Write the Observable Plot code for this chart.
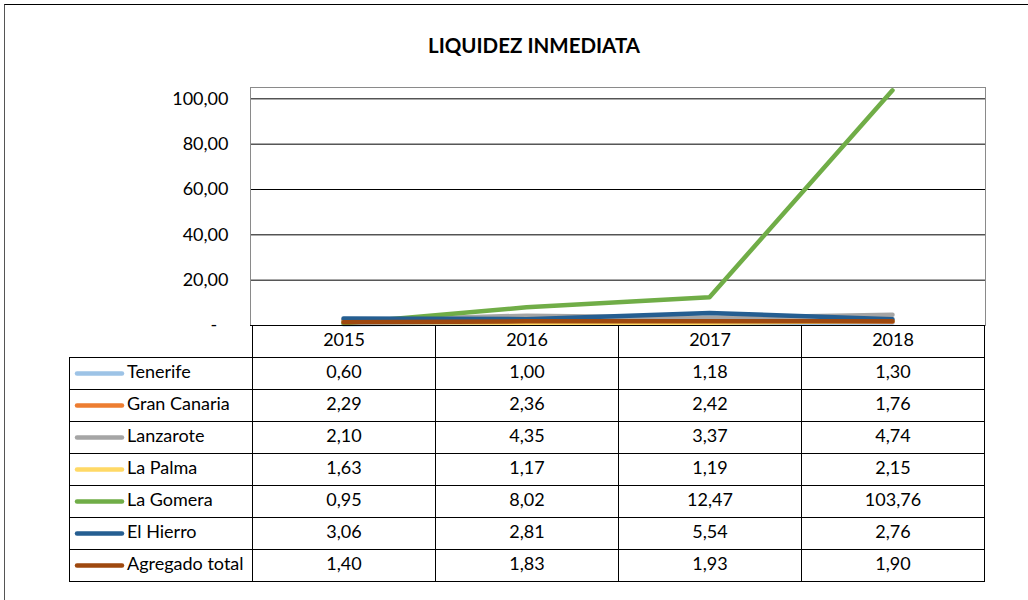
<!DOCTYPE html>
<html>
<head>
<meta charset="utf-8">
<script src="https://cdn.jsdelivr.net/npm/d3@7"></script>
<script src="https://cdn.jsdelivr.net/npm/@observablehq/plot@0.6"></script>
<style>
  html, body { margin: 0; padding: 0; background: #fff; }
  #wrap { position: relative; width: 1028px; height: 600px; overflow: hidden; font-family: Lato, "Noto Sans", sans-serif; }
  #frame { position: absolute; left: 4px; top: 4px; width: 1040px; height: 620px; border-top: 1px solid #000; border-left: 1px solid #555; }
  #title { position: absolute; left: 534px; top: 33px; transform: translateX(-50%); font-weight: bold; font-size: 20.5px; color: #000; white-space: nowrap; }
  .layer { position: absolute; left: 0; top: 0; }
</style>
</head>
<body>
<div id="wrap">
  <div id="frame"></div>
  <div id="title">LIQUIDEZ INMEDIATA</div>
  <div id="chart" class="layer"></div>
  <div id="table" class="layer"></div>
</div>
<script>
const years = ["2015", "2016", "2017", "2018"];
const seriesNames = ["Tenerife", "Gran Canaria", "Lanzarote", "La Palma", "La Gomera", "El Hierro", "Agregado total"];
const colors = ["#9DC3E6", "#ED7D31", "#A5A5A5", "#FFD966", "#70AD47", "#255E91", "#9E480E"];
const tenerife = [0.60, 1.00, 1.18, 1.30];
const granCanaria = [2.29, 2.36, 2.42, 1.76];
const lanzarote = [2.10, 4.35, 3.37, 4.74];
const laPalma = [1.63, 1.17, 1.19, 2.15];
const laGomera = [0.95, 8.02, 12.47, 103.76];
const elHierro = [3.06, 2.81, 5.54, 2.76];
const agregado = [1.40, 1.83, 1.93, 1.90];
const yTicks = [0, 20, 40, 60, 80, 100];

const seriesValues = [tenerife, granCanaria, lanzarote, laPalma, laGomera, elHierro, agregado];
const longData = [];
seriesNames.forEach((name, i) => {
  years.forEach((yr, j) => longData.push({series: name, year: yr, value: seriesValues[i][j]}));
});

const fmt = v => d3.format(".2f")(v).replace(".", ",");
const font = "Lato, 'Noto Sans', sans-serif";

const chart = Plot.plot({
  width: 1028,
  height: 600,
  marginLeft: 250,
  marginRight: 43,
  marginTop: 87,
  marginBottom: 275,
  style: {fontFamily: font, fontSize: "18px", color: "#000", background: "transparent"},
  x: {type: "point", domain: years, padding: 0.5, axis: null},
  y: {
    domain: [0, 105],
    ticks: yTicks,
    tickSize: 0,
    tickPadding: 22,
    tickFormat: v => v === 0 ? "-\u2002\u2009" : fmt(v),
    label: null
  },
  color: {domain: seriesNames, range: colors},
  marks: [
    Plot.ruleY(yTicks.filter(d => d > 0), {stroke: "#000", strokeWidth: 1}),
    Plot.frame({stroke: "#8a8a8a"}),
    Plot.ruleY([0], {stroke: "#000"}),
    Plot.line(longData, {
      x: "year", y: "value", z: "series", stroke: "series",
      strokeWidth: 4.5, strokeLinecap: "round", strokeLinejoin: "round"
    })
  ]
});
document.getElementById("chart").appendChild(chart);

// Data table
const cells = [];
years.forEach(yr => cells.push({row: "", col: yr, text: yr}));
seriesNames.forEach((name, i) => {
  cells.push({row: name, col: "", text: name, label: true});
  years.forEach((yr, j) => cells.push({row: name, col: yr, text: fmt(seriesValues[i][j])}));
});

const table = Plot.plot({
  width: 1028,
  height: 600,
  marginLeft: 67,
  marginRight: 43,
  marginTop: 325,
  marginBottom: 19,
  style: {fontFamily: font, fontSize: "18px", color: "#000", background: "transparent"},
  x: {type: "band", domain: ["", ...years], padding: 0, axis: null},
  y: {type: "band", domain: ["", ...seriesNames], padding: 0, axis: null},
  color: {domain: seriesNames, range: colors},
  marks: [
    Plot.cell(cells, {x: "col", y: "row", fill: "none", stroke: "#000", strokeWidth: 1, shapeRendering: "crispEdges"}),
    Plot.text(cells.filter(d => !d.label), {x: "col", y: "row", text: "text", fill: "#000", dy: -1}),
    Plot.text(cells.filter(d => d.label), {x: "col", y: "row", text: "text", fill: "#000", textAnchor: "start", dx: -34, dy: -1}),
    Plot.tickY(seriesNames.map(n => ({row: n})), {
      x: () => "", y: "row", stroke: d => d.row, strokeWidth: 4.5, strokeLinecap: "round",
      insetLeft: 8, insetRight: 130
    })
  ]
});
document.getElementById("table").appendChild(table);
</script>
</body>
</html>
